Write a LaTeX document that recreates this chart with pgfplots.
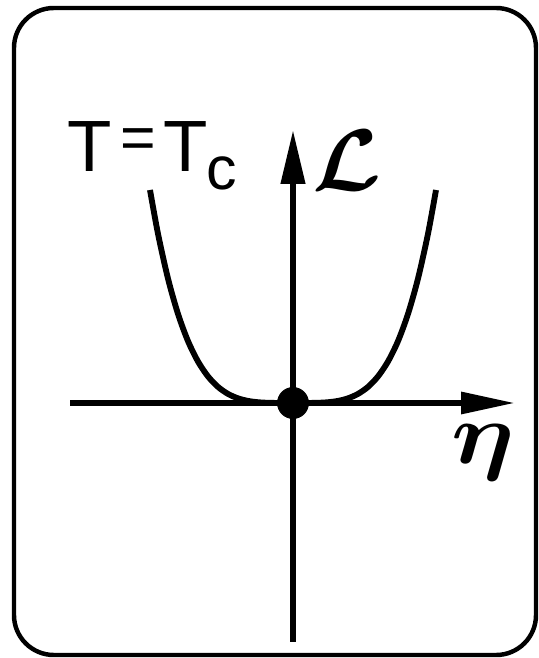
\documentclass[border=0pt]{standalone}
\usepackage{fontspec}
\setmainfont{Liberation Sans}
\usepackage{pgfplots}
\pgfplotsset{compat=1.18}
\usetikzlibrary{arrows.meta}
\newcommand{\bigL}{{\fontsize{24.88}{26}\selectfont\boldmath$\mathcal{L}$}}
\newcommand{\bigeta}{{\fontsize{24.88}{26}\selectfont\boldmath$\eta$}}
\begin{document}
\begin{tikzpicture}
\begin{axis}[
  scale only axis, width=8.085cm, height=9.87cm,
  xmin=-293, xmax=246, ymin=-255, ymax=403,
  hide axis, clip=false,
]
% frame
\draw[line width=1.9pt, rounded corners=17pt] (axis cs:-279,395) rectangle (axis cs:243,-252);
% axes
\addplot[line width=2.5pt, -{Triangle[length=23pt,width=9pt]}] coordinates {(-223,0) (222,0)};
\addplot[line width=2.5pt, -{Triangle[length=23pt,width=10pt]}] coordinates {(0,-239) (0,273)};
% curve
\addplot[line width=2.5pt, smooth] coordinates {
(-143,213) (-135,169.2) (-125,124.4) (-115,89.1) (-105,61.9) (-95,41.5) (-85,26.6)
(-75,16.1) (-65,9.09) (-55,4.66) (-45,2.09) (-35,0.77) (-25,0.2) (-15,0.03) (0,0)
(15,0.03) (25,0.2) (35,0.77) (45,2.09) (55,4.66) (65,9.09) (75,16.1) (85,26.6)
(95,41.5) (105,61.9) (115,89.1) (125,124.4) (135,169.2) (143,213)};
% dot
\addplot[only marks, mark=*, mark size=6.6pt, black] coordinates {(0,0)};
% labels
\node[anchor=base west, inner sep=0pt, font=\fontsize{31}{31}\selectfont] at (axis cs:-226,231) {T};
\node[anchor=center, inner sep=0pt, font=\fontsize{26}{26}\selectfont] at (axis cs:-155,259) {=};
\node[anchor=base west, inner sep=0pt, font=\fontsize{31}{31}\selectfont] at (axis cs:-130,231) {T};
\node[anchor=base west, inner sep=0pt, font=\fontsize{26}{26}\selectfont] at (axis cs:-87,213) {c};
\node[anchor=center, inner sep=0pt, scale=1.5] at (axis cs:54,242) {\bigL};
\node[anchor=center, inner sep=0pt, xscale=1.7, yscale=1.5] at (axis cs:190,-50) {\bigeta};
\end{axis}
\pgfresetboundingbox
\path (current axis.south west) rectangle (current axis.north east);
\end{tikzpicture}
\end{document}
